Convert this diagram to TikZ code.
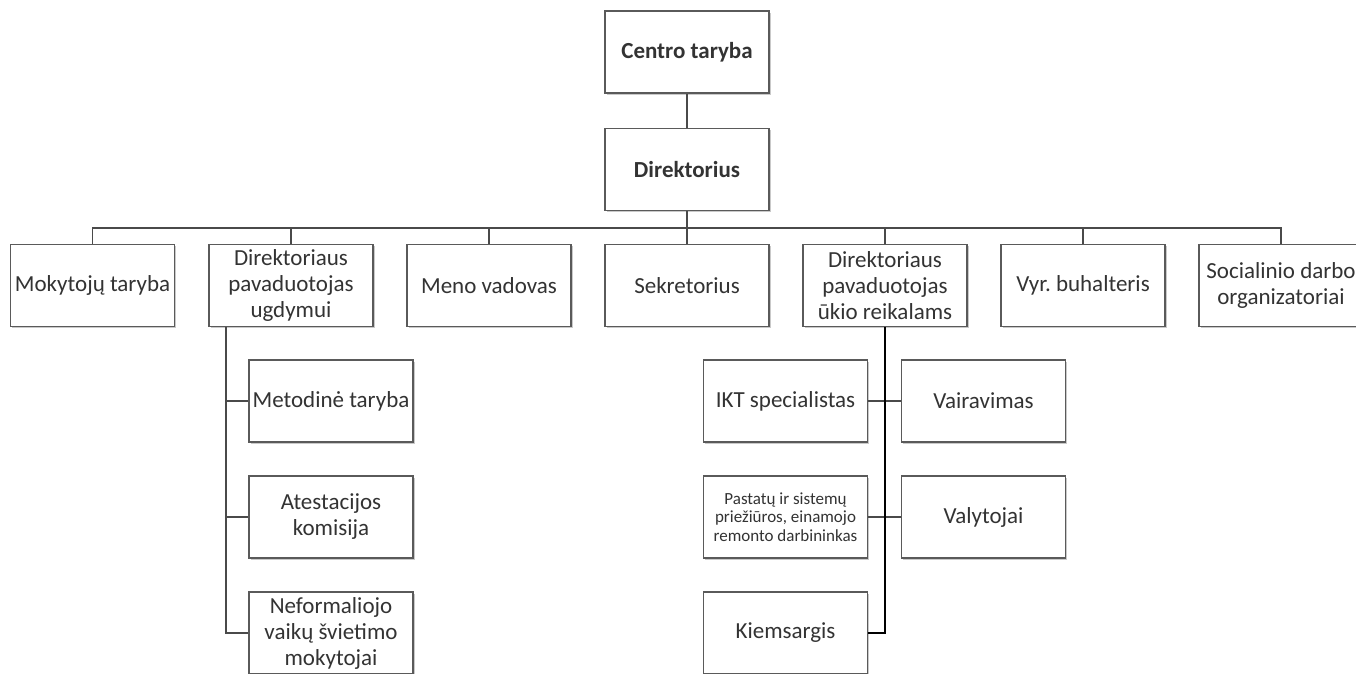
\documentclass[tikz,border=0pt]{standalone}
\usepackage{fontspec}
\setmainfont{Carlito}
\frenchspacing
\usetikzlibrary{shadows}
\definecolor{boxline}{HTML}{5A5A5A}
\definecolor{txt}{HTML}{333333}
\definecolor{linkc}{HTML}{4A4A4A}
\begin{document}
\begin{tikzpicture}[x=1pt,y=-1pt,
  box/.style={draw=boxline, line width=1.3pt, fill=white, text=txt,
    minimum width=164pt, minimum height=82pt, align=center, inner sep=1pt,
    font=\fontsize{23}{26}\selectfont,
    drop shadow={shadow xshift=1.5pt, shadow yshift=-1.5pt, opacity=0.35, fill=black!60}},
  bold/.style={font=\fontsize{23}{26}\selectfont\bfseries},
  small/.style={font=\fontsize{17}{18.5}\selectfont},
  link/.style={draw=linkc, line width=1.4pt},
  trunk/.style={draw=black, line width=2pt}]
\useasboundingbox (0,0) rectangle (1356,673);
\fill[white] (0,0) rectangle (1356,673);
\clip (0,0) rectangle (1356,673);

% top
\node[box,bold] (ct) at (687,52) {Centro taryba};
\node[box,bold] (dir) at (687,169.5) {Direktorius};

% second row
\node[box] (mok)  at (92.5,285.5)  {Mokytojų taryba};
\node[box] (dpu)  at (291,285.5)   {Direktoriaus\\pavaduotojas\\ugdymui};
\node[box] (meno) at (489,285.5)   {Meno vadovas};
\node[box] (sek)  at (687,285.5)   {Sekretorius};
\node[box] (dpuk) at (885,285.5)   {Direktoriaus\\pavaduotojas\\ūkio reikalams};
\node[box] (vyr)  at (1083,285.5)  {Vyr. buhalteris};
\node[box] (soc)  at (1281,285.5)  {Socialinio darbo\\organizatoriai};

% left column
\node[box] (met) at (331,401) {Metodinė taryba};
\node[box] (ate) at (331,517) {Atestacijos\\komisija};
\node[box] (nef) at (331,633) {Neformaliojo\\vaikų švietimo\\mokytojai};

% right column
\node[box] (ikt)  at (785.5,401) {IKT specialistas};
\node[box] (vair) at (983.5,401) {Vairavimas};
\node[box,small] (pas) at (785.5,517) {Pastatų ir sistemų\\priežiūros, einamojo\\remonto darbininkas};
\node[box] (val)  at (983.5,517) {Valytojai};
\node[box] (kie)  at (785.5,633) {Kiemsargis};

% connectors
\coordinate (bus) at (687,228);
\draw[link] (ct) -- (dir);
\draw[link] (dir) -- (sek);
\draw[link] (mok.north) -- (mok.north |- bus) -| (soc.north);
\foreach \n in {dpu,meno,dpuk,vyr}
  \draw[link] (\n.north) -- (\n.north |- bus);

\coordinate (ltr) at (226,327);
\draw[link] (ltr) |- (nef.west);
\draw[link] (ltr |- met.west) -- (met.west);
\draw[link] (ltr |- ate.west) -- (ate.west);

\draw[link] (ikt.east) -- (vair.west);
\draw[link] (pas.east) -- (val.west);
\draw[trunk] (dpuk.south) |- (kie.east);
\end{tikzpicture}
\end{document}
